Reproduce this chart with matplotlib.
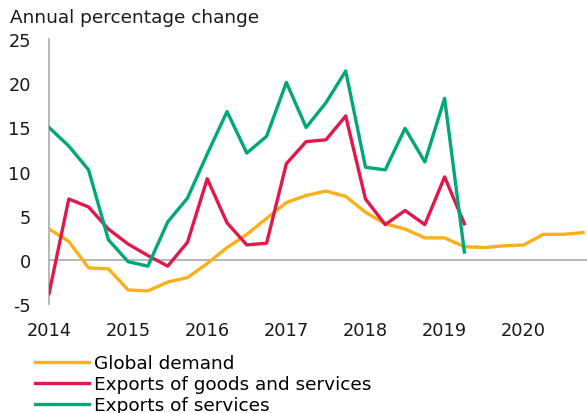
import numpy as np
import matplotlib
matplotlib.use("Agg")
import matplotlib.pyplot as plt

# Quarterly data, 2014Q1 onwards
start_year = 2014
global_demand = [3.5, 2.1, -0.9, -1.0, -3.4, -3.5, -2.5, -2.0,
                 -0.4, 1.4, 2.9, 4.7, 6.5, 7.3, 7.8, 7.2,
                 5.4, 4.1, 3.5, 2.5, 2.5, 1.5, 1.4, 1.6,
                 1.7, 2.9, 2.9, 3.1]
exports_goods_services = [-3.8, 6.9, 6.0, 3.5, 1.8, 0.5, -0.7, 2.0,
                          9.2, 4.2, 1.7, 1.9, 10.9, 13.4, 13.6, 16.3,
                          6.9, 4.0, 5.6, 4.0, 9.4, 4.1]
exports_services = [15.0, 12.9, 10.2, 2.3, -0.2, -0.7, 4.3, 7.0,
                    12.0, 16.8, 12.1, 14.0, 20.1, 15.0, 17.8, 21.4,
                    10.5, 10.2, 14.9, 11.1, 18.3, 0.9]
year_ticks = [2014, 2015, 2016, 2017, 2018, 2019, 2020]
y_ticks = [-5, 0, 5, 10, 15, 20, 25]

labels = ["Global demand", "Exports of goods and services", "Exports of services"]
colors = ["#FBB018", "#E3174A", "#00A878"]


def quarters(values):
    return start_year + np.arange(len(values)) * 0.25


plt.rcParams["axes.unicode_minus"] = False

fig = plt.figure(figsize=(5.87, 4.14), dpi=100)
ax = fig.add_axes([0.0835, 0.263, 0.9165, 0.64])

fs = 13.3
tick_fs = 12.8
ax.axhline(0, color="#aaaaaa", lw=1.2, zorder=1)
for vals, lab, col in zip([global_demand, exports_goods_services, exports_services], labels, colors):
    ax.plot(quarters(vals), vals, color=col, lw=2.4, label=lab, zorder=3)

ax.set_xlim(2014, 2020.8)
ax.set_ylim(-5, 25)
ax.set_xticks(year_ticks)
ax.set_yticks(y_ticks)
ax.tick_params(axis="both", length=0, labelsize=tick_fs, colors="#1a1a1a")
ax.tick_params(axis="x", pad=12)
ax.tick_params(axis="y", pad=13)

for side in ["top", "right", "bottom"]:
    ax.spines[side].set_visible(False)
ax.spines["left"].set_color("#aaaaaa")
ax.spines["left"].set_linewidth(1.2)

fig.text(10 / 587, 1 - 18 / 414, "Annual percentage change", fontsize=fs,
         ha="left", va="center", color="#1a1a1a")

fig.legend(loc="upper left", bbox_to_anchor=(35 / 587, 1 - 355 / 414),
           frameon=False, fontsize=fs, handlelength=2.9, handletextpad=0.3,
           labelspacing=0.17, borderpad=0, borderaxespad=0)

fig.savefig("out.png", dpi=100)
